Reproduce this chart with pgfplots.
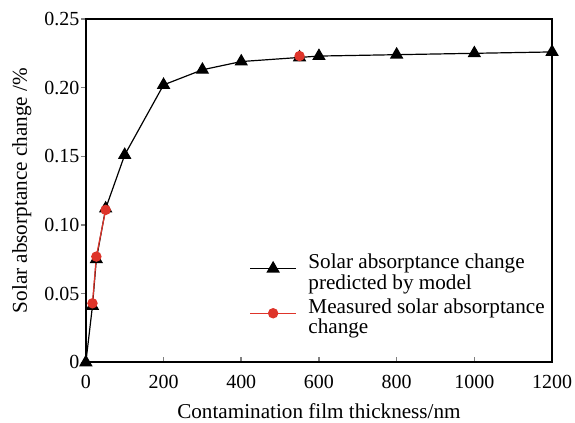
\documentclass[border=0pt]{standalone}
\usepackage{pgfplots}
\pgfplotsset{compat=1.18}
\usepackage{fontspec}
\setmainfont{Liberation Serif}
\definecolor{myred}{RGB}{222,52,42}
\newcommand{\ff}{\fontsize{10.6}{10}\selectfont}
\newcommand{\tf}{\fontsize{10}{10}\selectfont}
\begin{document}
\ff
\begin{tikzpicture}
\begin{axis}[
  scale only axis,
  width=233.5pt, height=172pt,
  xmin=0, xmax=1200, ymin=0, ymax=0.25,
  xtick={0,200,400,600,800,1000,1200},
  ytick={0,0.05,0.10,0.15,0.20,0.25},
  yticklabels={0,0.05,0.10,0.15,0.20,0.25},
  xtick pos=left, ytick pos=left,
  tick align=inside,
  major tick length=2.5pt,
  y tick style={xshift=-2.5pt, line width=0.8pt},
  x tick style={line width=0.8pt},
  axis line style={line width=1pt},
  /pgf/number format/assume math mode=true,
  /pgf/number format/1000 sep={},
  ticklabel style={font=\tf},
  xticklabel style={anchor=base, yshift=-13pt},
  yticklabel style={xshift=0.5pt},
  label style={font=\ff},
  xlabel={Contamination film thickness/nm},
  ylabel={Solar absorptance change /\%},
  xlabel style={at={(axis description cs:0.5,0)}, anchor=base, yshift=-28pt},
  ylabel style={at={(axis description cs:-0.1263,0.5)}, anchor=base, rotate=0},
  unbounded coords=jump,
  legend style={draw=none, fill=none, at={(rel axis cs:0.338,0.34)}, anchor=north west,
    font=\ff, cells={anchor=west}, row sep=0pt, column sep=4pt},
  legend image code/.code={
    \draw[mark repeat=2, mark phase=2, #1] plot coordinates {(0cm,0cm) (0.4cm,0cm) (0.8cm,0cm)};
    \path[draw=none, fill=none] (0cm,-13pt) -- (0.8cm,-13pt);
  },
]
\addplot[black, line width=0.6pt, mark=triangle*, mark size=3.3pt, mark options={solid}] coordinates {
  (0,0) (17,0.041) (27,0.075) (51,0.112) (100,0.151) (200,0.202) (300,0.213)
  (400,0.219) (550,0.222) (600,0.223) (800,0.224) (1000,0.225) (1200,0.226)
};
\addlegendentry{\begin{tabular}{@{}l@{}}Solar absorptance change\\predicted by model\end{tabular}}
\addplot[myred, line width=0.6pt, mark=*, mark size=2.3pt, mark options={solid, fill=myred}] coordinates {
  (17,0.043) (27,0.077) (51,0.111) (300,nan) (550,0.223)
};
\addlegendentry{\begin{tabular}{@{}l@{}}Measured solar absorptance\\change\end{tabular}}
\end{axis}
\pgfresetboundingbox
\path ([shift={(-43pt,-30pt)}]current axis.south west) rectangle ([shift={(11.5pt,9.5pt)}]current axis.north east);
\end{tikzpicture}
\end{document}
